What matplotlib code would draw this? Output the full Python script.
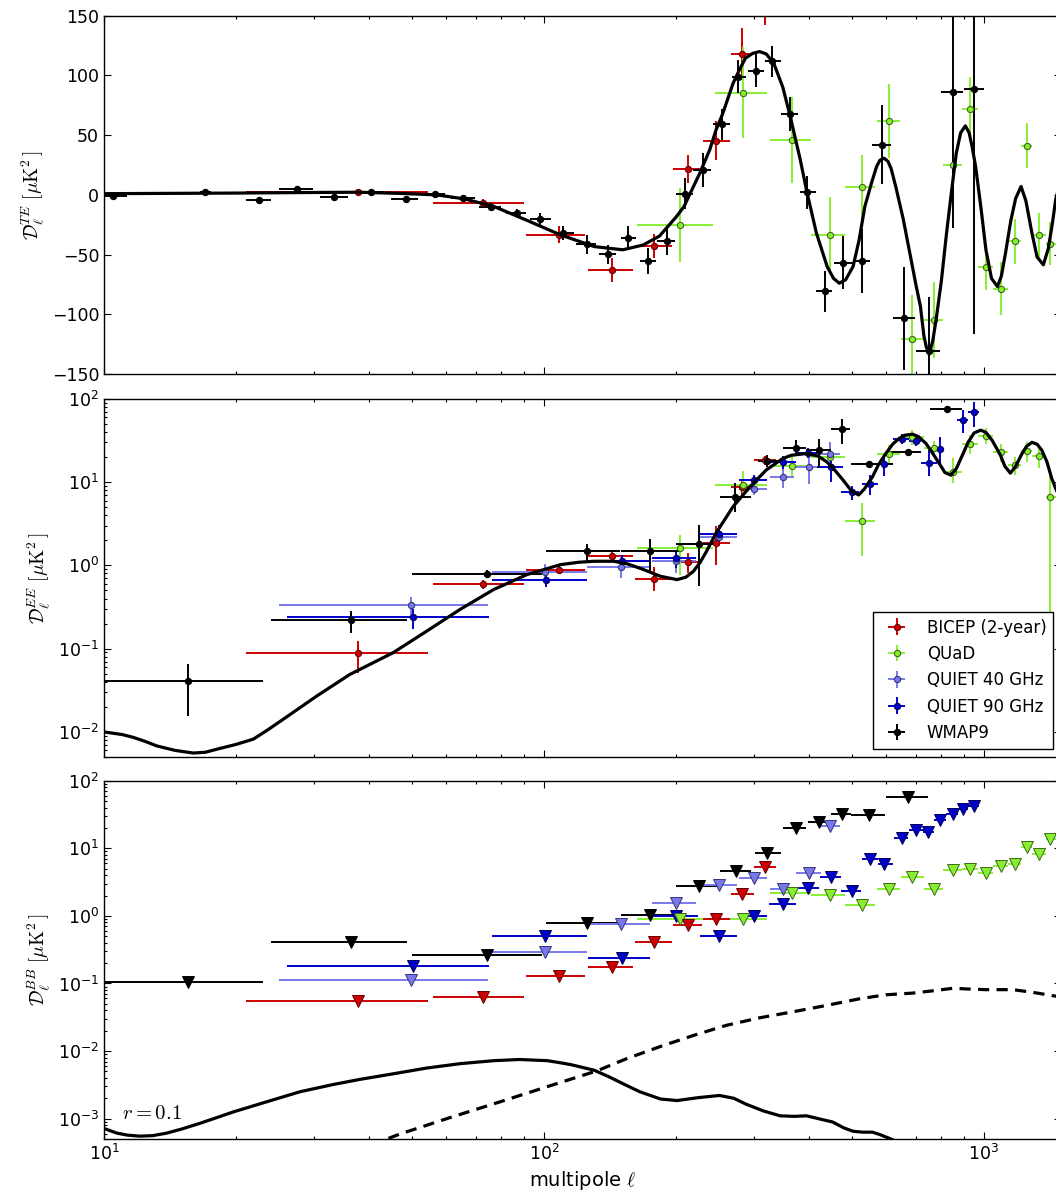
import matplotlib
matplotlib.use("Agg")
import matplotlib.pyplot as plt
import numpy as np

# ---------------------------------------------------------------- bins
# shared multipole bins per experiment (centre, lower edge, upper edge)
bicep_ell = [37.8, 72.8, 108.0, 142.9, 177.6, 212.8, 246.5, 282.5, 317.5]
bicep_lo = [21.0, 56.0, 91.0, 126.0, 161.0, 196.0, 230.0, 266.0, 300.0]
bicep_hi = [54.5, 90.0, 124.0, 159.0, 195.0, 229.0, 264.0, 300.0, 336.0]

quad_ell = [203.8, 284.0, 365.5, 446.0, 528.0, 607.0, 687.5, 770.0, 852.0,
            930.7, 1010.0, 1093.0, 1174.0, 1254.0, 1336.0, 1416.0]
quad_lo = [163, 245, 326, 405, 483, 570, 646, 729, 806, 889, 967, 1047,
           1132, 1213, 1285, 1380]
quad_hi = [242, 322, 404, 483, 565, 644, 729, 806, 889, 967, 1047, 1132,
           1213, 1285, 1380, 1460]

quiet40_ell = [49.9, 100.6, 150.0, 200.0, 250.0, 300.0, 349.0, 400.0, 446.0]
quiet40_lo = [25.0, 76.0, 125.0, 176.0, 226.0, 277.0, 326.0, 373.0, 422.0]
quiet40_hi = [74.7, 125.0, 174.0, 222.0, 274.0, 322.0, 370.0, 425.0, 470.0]

# ---------------------------------------------------------------- TE
wmap_te_ell = [10.5, 17.0, 22.5, 27.4, 33.4, 40.4, 48.5, 56.4, 65.6, 75.8,
               86.7, 98.0, 110.6, 125.0, 139.8, 155.5, 172.3, 190.4, 209.2,
               229.5, 253.3, 276.5, 303.0, 330.0, 362.0, 396.0, 435.0, 479.0,
               528.0, 587.0, 658.0, 749.0, 849.0, 948.0]
wmap_te_lo = [10.0, 16.5, 21.0, 25.0, 31.0, 38.0, 45.0, 54.0, 61.4, 71.0,
              82.0, 93.0, 106.0, 118.0, 133.0, 149.4, 165.0, 181.0, 200.0,
              218.0, 242.0, 267.0, 291.0, 318.0, 345.0, 381.0, 415.0, 457.0,
              504.0, 556.0, 621.0, 699.0, 800.0, 900.0]
wmap_te_hi = [11.3, 17.5, 23.9, 29.9, 35.9, 43.0, 51.8, 59.6, 69.7, 80.0,
              91.0, 103.6, 117.0, 131.0, 146.0, 162.0, 180.0, 198.0, 218.0,
              240.0, 264.0, 288.0, 316.0, 345.0, 377.0, 415.0, 452.0, 504.0,
              550.0, 615.0, 696.0, 795.0, 897.0, 1000.0]
wmap_te_val = [-1.0, 2.3, -4.5, 4.8, -1.4, 2.3, -3.4, 0.5, -2.8, -9.8,
               -15.4, -20.4, -32.0, -41.3, -49.7, -35.8, -55.3, -38.5, 1.1,
               20.7, 59.2, 99.0, 104.0, 111.7, 67.6, 2.0, -80.7, -56.7,
               -55.5, 41.9, -103.3, -130.7, 86.0, 88.5]
wmap_te_err = [1.0, 1.0, 1.5, 1.5, 1.5, 1.5, 1.5, 2.0, 2.5, 3.0,
               3.5, 5.0, 6.0, 8.0, 8.0, 10.0, 11.0, 12.0, 13.0,
               14.0, 13.0, 14.0, 14.0, 13.0, 14.0, 14.0, 17.0, 22.0,
               27.0, 33.0, 43.0, 45.0, 114.0, 205.0]

bicep_te_val = [2.0, -6.7, -33.2, -62.8, -42.7, 21.8, 45.5, 118.0, 175.0]
bicep_te_err = [1.5, 3.0, 7.0, 10.0, 10.0, 12.0, 16.0, 22.0, 33.0]

quad_te_val = [-25.4, 85.7, 46.3, -33.8, 7.0, 62.2, -120.6, -104.7, 25.0,
               71.8, -60.6, -78.5, -39.0, 41.3, -34.0, -41.0]
quad_te_err = [31, 38, 36, 32, 26, 31, 37, 32, 30, 27, 19, 22, 19, 19, 19, 18]

te_model_ell = [10, 20, 30, 38, 48, 57, 66, 77, 91, 109, 130, 151, 168, 183,
                200, 208, 215, 226, 238, 246, 255, 269, 278, 287, 298, 309,
                320, 333, 349, 362, 382, 396, 416, 440, 455, 469, 485, 504,
                520, 536, 555, 570, 580, 593, 605, 615, 630, 655, 676, 700,
                717, 730, 740, 747, 755, 765, 780, 800, 822, 845, 865, 885,
                907, 925, 940, 957, 985, 1010, 1040, 1073, 1095, 1119, 1150,
                1180, 1214, 1245, 1285, 1320, 1364, 1400, 1430, 1455, 1500]
te_model_val = [1.0, 1.5, 2.0, 2.2, 1.1, 0.0, -3.4, -9.8, -21.0, -33.5,
                -43.3, -46.0, -42.0, -34.5, -18.2, -9.8, 1.4, 18.2, 37.7,
                54.4, 68.4, 93.5, 104.7, 114.5, 118.5, 120.0, 118.0, 110.0,
                90.0, 67.0, 30.0, 2.0, -32.0, -60.0, -70.0, -74.0, -71.0,
                -60.0, -38.0, -9.8, 10.0, 23.7, 29.0, 30.7, 28.0, 22.0, 7.0,
                -20.0, -46.0, -75.0, -93.5, -118.0, -128.0, -131.0, -130.0,
                -122.0, -102.0, -72.0, -32.0, 5.0, 35.0, 52.0, 57.8, 52.0,
                40.0, 23.7, -12.0, -46.0, -70.0, -76.8, -68.0, -48.8, -22.0,
                -3.0, 7.0, -5.0, -32.0, -52.0, -58.6, -45.0, -24.0, -4.0, 15.0]

# ---------------------------------------------------------------- EE
wmap_ee_ell = [15.5, 36.4, 74.3, 124.9, 174.0, 224.5, 271.0, 322.0, 373.0,
               421.0, 475.0, 549.0, 673.0, 822.0]
wmap_ee_lo = [2.0, 24.0, 50.0, 101.0, 150.0, 200.0, 251.0, 306.0, 349.0,
              393.0, 448.0, 499.0, 600.0, 752.0]
wmap_ee_hi = [23.0, 48.7, 99.0, 149.0, 203.0, 250.0, 296.0, 349.0, 393.0,
              448.0, 496.0, 621.0, 720.0, 893.0]
wmap_ee_val = [0.041, 0.22, 0.789, 1.47, 1.47, 1.8, 6.68, 18.0, 25.8, 24.2,
               43.6, 16.3, 23.1, 76.0]
wmap_ee_errlo = [0.0253, 0.065, 0.08, 0.38, 0.62, 1.24, 2.3, 3.0, 4.8, 9.6,
                 14.6, 1.5, 1.5, 3.0]
wmap_ee_errhi = [0.024, 0.062, 0.08, 0.33, 0.6, 1.26, 3.0, 3.0, 6.0, 9.0,
                 14.0, 1.5, 1.5, 3.0]

bicep_ee_val = [0.0895, 0.604, 0.88, 1.28, 0.687, 1.086, 1.85, 8.8, 18.4]
bicep_ee_errlo = [0.038, 0.084, 0.09, 0.15, 0.2, 0.28, 0.83, 1.8, 2.4]
bicep_ee_errhi = [0.034, 0.066, 0.09, 0.17, 0.27, 0.31, 1.08, 1.8, 2.4]

quad_ee_val = [1.615, 9.2, 15.6, 19.8, 3.45, 21.6, 34.9, 26.0, 13.1, 28.5,
               35.5, 22.7, 16.0, 23.5, 20.5, 6.6]
quad_ee_errlo = [0.85, 2.5, 4.0, 4.5, 2.17, 4.9, 7.0, 5.0, 3.4, 6.5, 6.5,
                 5.2, 3.8, 6.0, 5.9, 6.55]
quad_ee_errhi = [0.7, 4.2, 5.0, 6.8, 2.12, 6.1, 7.0, 5.0, 6.2, 8.0, 8.5,
                 6.3, 4.0, 7.0, 7.2, 7.3]

quiet40_ee_val = [0.332, 0.825, 0.95, 1.12, 2.2, 8.34, 11.6, 15.0, 21.6]
quiet40_ee_errlo = [0.09, 0.2, 0.25, 0.3, 0.5, 1.3, 3.1, 5.6, 7.0]
quiet40_ee_errhi = [0.08, 0.2, 0.35, 0.3, 0.5, 2.3, 3.9, 7.0, 9.0]

quiet90_ee_ell = [50.5, 101.0, 150.2, 200.0, 250.0, 299.7, 349.0, 399.0,
                  449.0, 500.0, 550.0, 594.0, 650.0, 700.0, 749.0, 795.0,
                  898.0, 948.5]
quiet90_ee_lo = [26, 76, 126, 176, 226, 277, 322, 373, 418, 473, 528, 574,
                 621, 676, 720, 780, 867, 920]
quiet90_ee_hi = [75, 125, 174, 222, 274, 322, 373, 422, 478, 520, 574, 621,
                 676, 720, 780, 812, 920, 973]
quiet90_ee_val = [0.243, 0.674, 1.12, 1.22, 2.39, 10.6, 17.5, 22.5, 15.0,
                  7.55, 9.4, 16.3, 33.0, 31.0, 17.0, 24.9, 55.4, 68.5]
quiet90_ee_errlo = [0.073, 0.13, 0.2, 0.3, 0.5, 1.5, 3.0, 3.0, 5.0, 1.5,
                    2.4, 4.6, 4.5, 4.0, 5.3, 9.2, 17.0, 22.5]
quiet90_ee_errhi = [0.053, 0.18, 0.2, 0.3, 0.7, 1.5, 3.0, 3.0, 5.5, 1.4,
                    2.8, 4.7, 4.5, 4.0, 7.0, 9.7, 17.4, 23.0]

ee_model_ell = [10, 11, 11.66, 12.4, 13.17, 14.5, 15.95, 17, 18.05, 20,
                21.85, 23.5, 25.55, 30.45, 36.2, 45.4, 54.1, 64.4, 76.8, 91.4,
                109, 120, 130, 144, 155, 168.4, 183.8, 200.6, 210, 218.5,
                226, 234, 246, 269, 294, 320, 349, 365, 395, 420,
                439, 455, 478, 500, 519, 535, 558, 575, 598, 620,
                641, 660, 688, 710, 738, 765, 791, 815, 841, 865,
                893, 920, 950, 983, 1010, 1043, 1070, 1090, 1115, 1148,
                1180, 1220, 1250, 1285, 1320, 1353, 1390, 1425, 1460, 1500]
ee_model_val = [0.0100, 0.0093, 0.0086, 0.0077, 0.0068, 0.0060, 0.00558,
                0.0057, 0.0062, 0.0071, 0.0082, 0.0105, 0.0142, 0.027, 0.049,
                0.0894, 0.162, 0.295, 0.512, 0.774, 1.02, 1.09, 1.12, 1.12,
                1.04, 0.89, 0.74, 0.674, 0.72, 0.848, 1.07, 1.47, 2.44, 5.08,
                8.8, 14.0, 19.2, 21.0, 22.0, 20.5, 17.5, 14.5, 10.6, 7.8, 7.0,
                8.3, 11.6, 16.0, 22.0, 28.5, 33.4, 36.5, 37.6, 35.0, 29.1,
                22.0, 16.8, 13.0, 12.1, 14.5, 21.0, 30.0, 39.0, 42.0, 39.5,
                31.8, 25.0, 21.0, 15.5, 12.8, 15.5, 22.0, 27.0, 30.0, 28.5,
                24.2, 17.5, 11.1, 8.0, 6.0]

# ---------------------------------------------------------------- BB (95% upper limits)
wmap_bb_ell = [15.5, 36.4, 74.3, 124.9, 174.0, 224.5, 273.8, 322.0, 373.0,
               421.0, 475.0, 549.0, 673.0]
wmap_bb_lo = [2, 24, 50, 101, 150, 200, 251, 301, 349, 398, 448, 499, 600]
wmap_bb_hi = [23, 48.7, 99, 149, 204, 250, 296, 346, 394, 452, 499, 596, 746]
wmap_bb_val = [0.104, 0.413, 0.266, 0.773, 1.02, 2.77, 4.61, 8.6, 20.2,
               24.8, 32.4, 31.6, 57.0]

bicep_bb_val = [0.0556, 0.0624, 0.128, 0.173, 0.413, 0.73, 0.894, 2.09, 5.28]

quad_bb_val = [0.894, 0.894, 2.21, 2.04, 1.44, 2.53, 3.81, 2.48, 4.77, 4.88,
               4.26, 5.47, 5.79, 10.6, 8.3, 13.9]

quiet40_bb_val = [0.114, 0.295, 0.746, 1.576, 2.84, 3.6, 2.48, 4.37, 21.3]

quiet90_bb_ell = [50.5, 100.6, 150.5, 200.0, 250.0, 299.7, 349.0, 399.0,
                  449.0, 500.0, 550.0, 591.0, 650.0, 700.0, 746.0, 795.0,
                  849.0, 898.0, 948.5]
quiet90_bb_lo = [26, 76, 126, 176, 226, 277, 324, 373, 424, 473, 528, 574,
                 625, 675, 725, 769, 820, 875, 922]
quiet90_bb_hi = [75, 125, 174, 224, 274, 322, 373, 422, 473, 526, 574, 621,
                 673, 729, 769, 820, 875, 922, 975]
quiet90_bb_val = [0.183, 0.507, 0.235, 1.0, 0.507, 1.0, 1.52, 2.62, 3.81,
                  2.34, 6.86, 5.79, 14.3, 18.4, 17.3, 26.7, 32.4, 38.4, 42.9]

bb_tensor_ell = [10, 10.7, 11.3, 12.07, 12.9, 13.88, 15, 16.5, 18, 19.7,
                 23.4, 27.9, 33.2, 38.1, 45.4, 54.1, 64.4, 76.8, 88, 101.8,
                 109, 115, 120, 130, 140, 154, 165, 184, 200.6, 225,
                 250.5, 270, 287.6, 315, 344, 370, 395, 420, 453, 480,
                 504, 530, 558, 580, 605, 700, 850, 1000, 1500]
bb_tensor_val = [7.14e-4, 6.1e-4, 5.7e-4, 5.5e-4, 5.6e-4, 6.1e-4, 7.0e-4,
                 8.5e-4, 1.03e-3, 1.26e-3, 1.77e-3, 2.5e-3, 3.2e-3, 3.8e-3,
                 4.6e-3, 5.6e-3, 6.5e-3, 7.2e-3, 7.5e-3, 7.2e-3, 6.7e-3,
                 6.3e-3, 5.9e-3, 5.2e-3, 4.2e-3, 3.1e-3, 2.5e-3, 1.95e-3,
                 1.85e-3, 2.05e-3, 2.2e-3, 2.0e-3, 1.64e-3, 1.3e-3, 1.1e-3,
                 1.08e-3, 1.1e-3, 1.0e-3, 8.9e-4, 7.3e-4, 6.5e-4, 6.3e-4,
                 6.3e-4, 5.8e-4, 5.2e-4, 3.5e-4, 2.2e-4, 1.5e-4, 6e-5]

bb_lensing_ell = [44.3, 47, 61, 79.4, 103, 132, 154, 184, 218.5, 259.6,
                  308.7, 367, 436, 519, 598, 688, 767, 851, 910, 1010, 1162,
                  1290, 1431, 1500]
bb_lensing_val = [5.1e-4, 5.9e-4, 1.03e-3, 1.77e-3, 3.05e-3, 5.1e-3, 7.7e-3,
                  1.17e-2, 1.7e-2, 2.4e-2, 3.1e-2, 3.8e-2, 4.7e-2, 5.9e-2,
                  6.8e-2, 7.2e-2, 7.8e-2, 8.5e-2, 8.3e-2, 8.1e-2, 8.1e-2,
                  7.4e-2, 6.6e-2, 6.3e-2]

# ---------------------------------------------------------------- styles
RED, RED_E = "#cc0000", "#660000"
GREEN, GREEN_E = "#88ee33", "#3c6a14"
LBLUE, LBLUE_E = "#7878eb", "#35357a"
BLUE, BLUE_E = "#0000cc", "#000055"
BLACK = "k"


def xerr_of(ell, lo, hi):
    ell = np.asarray(ell, dtype=float)
    return [ell - np.asarray(lo, dtype=float), np.asarray(hi, dtype=float) - ell]


def bandpowers(ax, ell, lo, hi, val, err, color, edge, label=None):
    return ax.errorbar(ell, val, xerr=xerr_of(ell, lo, hi), yerr=err, fmt="o",
                       color=color, mfc=color, mec=edge, ms=4.5, mew=0.8,
                       elinewidth=1.4, capsize=0, label=label, zorder=2)


def upper_limits(ax, ell, lo, hi, val, color, edge):
    ax.errorbar(ell, val, xerr=xerr_of(ell, lo, hi), fmt="v", color=color,
                mfc=color, mec=edge, ms=8.5, mew=0.7, elinewidth=1.4,
                capsize=0, zorder=2)


def style_axis(ax):
    ax.set_xscale("log")
    ax.set_xlim(10, 1500)
    ax.tick_params(which="both", direction="in", top=True, right=True,
                   labelsize=12.5, width=0.8)
    ax.tick_params(which="major", length=5)
    ax.tick_params(which="minor", length=2.5)
    for s in ax.spines.values():
        s.set_linewidth(1.0)


fig = plt.figure(figsize=(10.56, 11.94), dpi=100)
left, width, height = 0.0985, 0.9067, 0.3
ax_te = fig.add_axes([left, 0.6868, width, height])
ax_ee = fig.add_axes([left, 0.3660, width, height])
ax_bb = fig.add_axes([left, 0.0461, width, height])

ylab_kw = dict(fontsize=14, math_fontfamily="cm")

# TE panel
bandpowers(ax_te, bicep_ell, bicep_lo, bicep_hi, bicep_te_val, bicep_te_err, RED, RED_E)
bandpowers(ax_te, quad_ell, quad_lo, quad_hi, quad_te_val, quad_te_err, GREEN, GREEN_E)
bandpowers(ax_te, wmap_te_ell, wmap_te_lo, wmap_te_hi, wmap_te_val, wmap_te_err, BLACK, BLACK)
ax_te.plot(te_model_ell, te_model_val, color="k", lw=2.3, zorder=3)
style_axis(ax_te)
ax_te.set_ylim(-150, 150)
ax_te.set_yticks(np.arange(-150, 151, 50))
ax_te.tick_params(labelbottom=False)
ax_te.set_ylabel(r"$\mathcal{D}_\ell^{TE}\ [\mu{\rm K}^2\,]$", **ylab_kw)

# EE panel
h1 = bandpowers(ax_ee, bicep_ell, bicep_lo, bicep_hi, bicep_ee_val,
                [bicep_ee_errlo, bicep_ee_errhi], RED, RED_E, "BICEP (2-year)")
h2 = bandpowers(ax_ee, quad_ell, quad_lo, quad_hi, quad_ee_val,
                [quad_ee_errlo, quad_ee_errhi], GREEN, GREEN_E, "QUaD")
h3 = bandpowers(ax_ee, quiet40_ell, quiet40_lo, quiet40_hi, quiet40_ee_val,
                [quiet40_ee_errlo, quiet40_ee_errhi], LBLUE, LBLUE_E, "QUIET 40 GHz")
h4 = bandpowers(ax_ee, quiet90_ee_ell, quiet90_ee_lo, quiet90_ee_hi, quiet90_ee_val,
                [quiet90_ee_errlo, quiet90_ee_errhi], BLUE, BLUE_E, "QUIET 90 GHz")
h5 = bandpowers(ax_ee, wmap_ee_ell, wmap_ee_lo, wmap_ee_hi, wmap_ee_val,
                [wmap_ee_errlo, wmap_ee_errhi], BLACK, BLACK, "WMAP9")
ax_ee.plot(ee_model_ell, ee_model_val, color="k", lw=2.3, zorder=3)
style_axis(ax_ee)
ax_ee.set_yscale("log")
ax_ee.set_ylim(5e-3, 100)
ax_ee.tick_params(labelbottom=False)
ax_ee.set_ylabel(r"$\mathcal{D}_\ell^{EE}\ [\mu{\rm K}^2\,]$", **ylab_kw)
leg = ax_ee.legend(handles=[h1, h2, h3, h4, h5], loc="lower right", fontsize=12,
                   fancybox=False, framealpha=1.0, edgecolor="k", numpoints=1)
leg.get_frame().set_linewidth(1.0)
leg.set_zorder(10)

# BB panel
upper_limits(ax_bb, wmap_bb_ell, wmap_bb_lo, wmap_bb_hi, wmap_bb_val, BLACK, BLACK)
upper_limits(ax_bb, quiet40_ell, quiet40_lo, quiet40_hi, quiet40_bb_val, LBLUE, LBLUE_E)
upper_limits(ax_bb, quiet90_bb_ell, quiet90_bb_lo, quiet90_bb_hi, quiet90_bb_val, BLUE, BLUE_E)
upper_limits(ax_bb, quad_ell, quad_lo, quad_hi, quad_bb_val, GREEN, GREEN_E)
upper_limits(ax_bb, bicep_ell, bicep_lo, bicep_hi, bicep_bb_val, RED, RED_E)
ax_bb.plot(bb_tensor_ell, bb_tensor_val, color="k", lw=2.3, zorder=3)
ax_bb.plot(bb_lensing_ell, bb_lensing_val, color="k", lw=2.3, ls=(0, (3.5, 2.3)), zorder=3)
style_axis(ax_bb)
ax_bb.set_yscale("log")
ax_bb.set_ylim(5e-4, 100)
ax_bb.set_ylabel(r"$\mathcal{D}_\ell^{BB}\ [\mu{\rm K}^2\,]$", **ylab_kw)
ax_bb.set_xlabel(r"multipole $\ell$", fontsize=14, math_fontfamily="cm")
ax_bb.text(0.0185, 0.0735, r"$r=0.1$", transform=ax_bb.transAxes, fontsize=15,
           math_fontfamily="cm", va="center", ha="left")

fig.savefig("out.png", dpi=100)
